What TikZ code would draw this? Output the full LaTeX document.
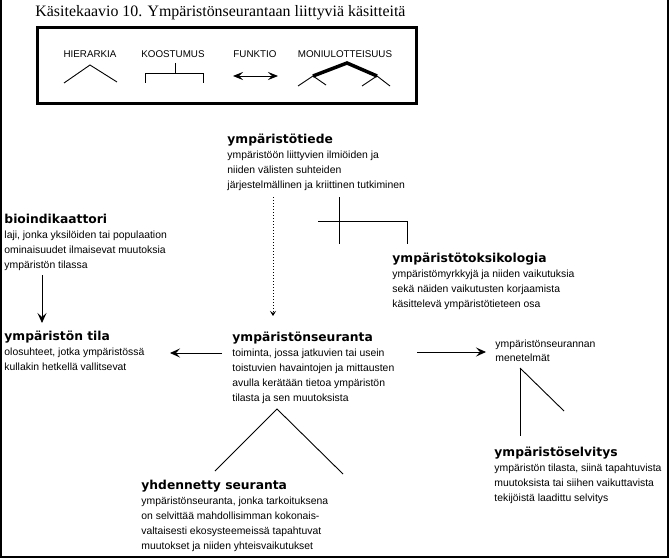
\documentclass[tikz,border=0pt]{standalone}
\usepackage{fontspec}
\setmainfont{Liberation Sans}
\newfontfamily\titlefont{Liberation Serif}
\newfontfamily\headfont{DejaVu Sans Bold}
\usetikzlibrary{arrows.meta}

\newcommand\hd[1]{{\headfont\fontsize{12.3}{15}\selectfont #1}}

\begin{document}
\begin{tikzpicture}
  [
  x=1pt, y=-1pt, line width=0.9pt, draw=black,
  concept/.style={anchor=base west, align=left, inner sep=0pt, font=\fontsize{10.4}{15}\selectfont},
  legendtext/.style={inner sep=0pt, font=\fontsize{9.8}{12}\selectfont},
  link/.style={line width=0.9pt},
  arrow/.style={link, -{Stealth[length=10pt,width=9pt,inset=4pt]}},
  dotarrow/.style={link, dash pattern=on 1pt off 2pt, -{Stealth[length=5pt,width=6pt,inset=2pt]}},
  ]

\useasboundingbox (0,0) rectangle (672,559);

% frame and title
\draw[line width=2pt] (1,0) -- (1,557) -- (668,557) -- (668,0);
\node[anchor=base west, inner sep=0pt, font=\titlefont\fontsize{15.9}{17}\selectfont] (title) at (35,17)
  {Käsitekaavio 10. Ympäristönseurantaan liittyviä käsitteitä};

% legend
\draw[line width=3pt] (37,28) rectangle (416,104);
\node[legendtext] (hier) at (90,54) {HIERARKIA};
\node[legendtext] (koos) at (173,54) {KOOSTUMUS};
\node[legendtext] (funk) at (255,54) {FUNKTIO};
\node[legendtext] (moni) at (345,54) {MONIULOTTEISUUS};

\draw[link] (64,83) -- (90,65) -- (117,82);
\draw[link] (175,63) -- (175,73);
\draw[link] (145,83) -- (145,73) -- (203,73) -- (203,83);
\draw[link, {Stealth[length=10pt,width=8pt,inset=4pt]}-{Stealth[length=10pt,width=8pt,inset=4pt]}] (233,76) -- (278,76);
\draw[line width=3.5pt] (313,76) -- (347,63) -- (377,76);
\draw[link] (298,86) -- (313,76) -- (326,85);
\draw[link] (362,86) -- (377,76) -- (390,86);

% concepts (placed at the baseline of their last line)
\node[concept] (tiede) at (227,189) {\hd{ympäristötiede}\\
  ympäristöön liittyvien ilmiöiden ja\\
  niiden välisten suhteiden\\
  järjestelmällinen ja kriittinen tutkiminen};

\node[concept] (bio) at (4,268) {\hd{bioindikaattori}\\
  laji, jonka yksilöiden tai populaation\\
  ominaisuudet ilmaisevat muutoksia\\
  ympäristön tilassa};

\node[concept] (toks) at (392,307) {\hd{ympäristötoksikologia}\\
  ympäristömyrkkyjä ja niiden vaikutuksia\\
  sekä näiden vaikutusten korjaamista\\
  käsittelevä ympäristötieteen osa};

\node[concept] (tila) at (4,370) {\hd{ympäristön tila}\\
  olosuhteet, jotka ympäristössä\\
  kullakin hetkellä vallitsevat};

\node[concept] (seur) at (232,401) {\hd{ympäristönseuranta}\\
  toiminta, jossa jatkuvien tai usein\\
  toistuvien havaintojen ja mittausten\\
  avulla kerätään tietoa ympäristön\\
  tilasta ja sen muutoksista};

\node[concept, font=\fontsize{10.4}{14}\selectfont] (men) at (495,361) {ympäristönseurannan\\
  menetelmät};

\node[concept] (selv) at (494,501) {\hd{ympäristöselvitys}\\
  ympäristön tilasta, siinä tapahtuvista\\
  muutoksista tai siihen vaikuttavista\\
  tekijöistä laadittu selvitys};

\node[concept] (yhd) at (141,549) {\hd{yhdennetty seuranta}\\
  ympäristönseuranta, jonka tarkoituksena\\
  on selvittää mahdollisimman kokonais-\\
  valtaisesti ekosysteemeissä tapahtuvat\\
  muutokset ja niiden yhteisvaikutukset};

% connector ends
\coordinate (tiede-dot) at (273,197);
\coordinate (seur-in) at (273,316);
\coordinate (tiede-stem) at (339,197);
\coordinate (stem-end) at (339,244);
\coordinate (bar-l) at (318,221);
\coordinate (bar-r) at (407,221);
\coordinate (toks-in) at (407,244);
\coordinate (bio-out) at (42,275);
\coordinate (tila-in) at (42,323);
\coordinate (seur-l) at (222,353);
\coordinate (tila-r) at (170,353);
\coordinate (seur-r) at (417,352);
\coordinate (men-in) at (486,352);
\coordinate (men-out) at (520,368);
\coordinate (selv-in) at (520,436);
\coordinate (men-diag) at (564,411);
\coordinate (seur-apex) at (277,409);
\coordinate (yhd-l) at (215,471);
\coordinate (yhd-r) at (343,474);

% connectors
\draw[dotarrow] (tiede-dot) -- (seur-in);
\draw[link] (tiede-stem) -- (stem-end);
\draw[link] (bar-l) -- (bar-r) -- (toks-in);
\draw[arrow] (bio-out) -- (tila-in);
\draw[arrow] (seur-l) -- (tila-r);
\draw[arrow] (seur-r) -- (men-in);
\draw[link] (men-out) -- (selv-in);
\draw[link] (men-out) -- (men-diag);
\draw[link] (yhd-l) -- (seur-apex) -- (yhd-r);
\end{tikzpicture}
\end{document}
